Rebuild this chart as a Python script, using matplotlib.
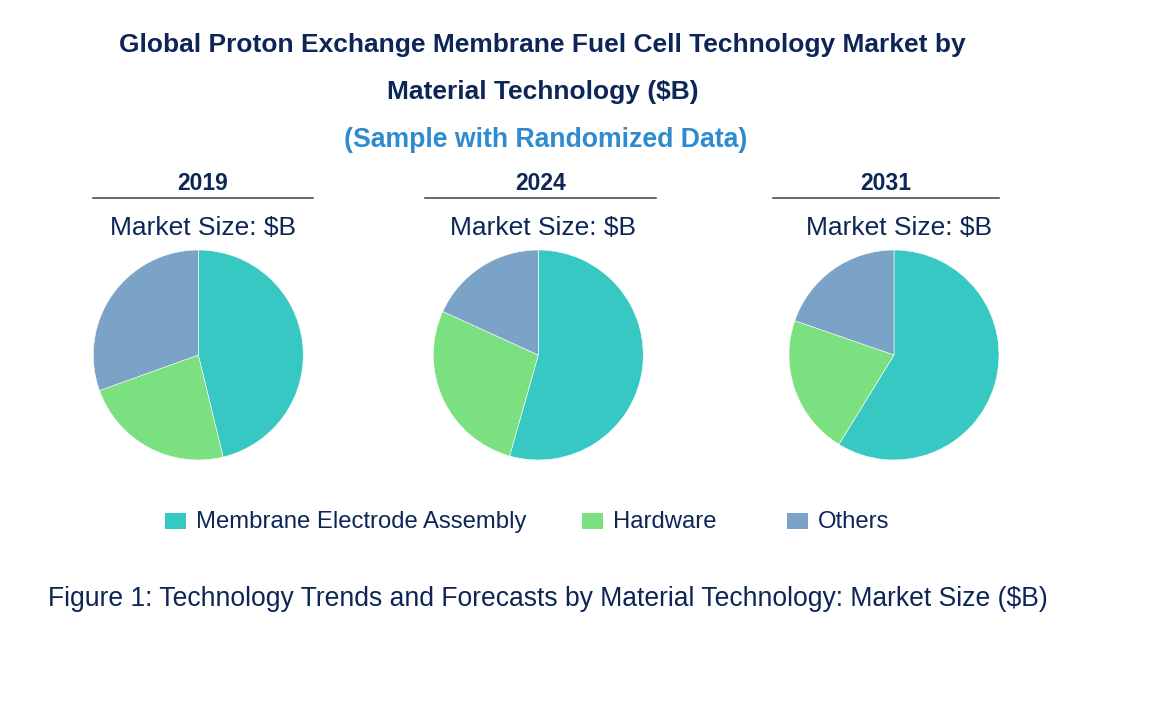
import matplotlib
matplotlib.use("Agg")
import matplotlib.pyplot as plt
from matplotlib.lines import Line2D
from matplotlib.patches import Rectangle

plt.rcParams['font.family'] = ['Liberation Sans', 'DejaVu Sans']

years = ["2019", "2024", "2031"]
categories = ["Membrane Electrode Assembly", "Hardware", "Others"]
mea_share = [46.2, 54.4, 58.8]
hardware_share = [23.3, 27.4, 21.5]
others_share = [30.5, 18.2, 19.7]
colors = ["#38C8C4", "#7BE07F", "#7BA3C7"]

W, H = 1170, 711
fig = plt.figure(figsize=(W / 100, H / 100), dpi=100)
fig.patch.set_facecolor("white")

navy = "#0D2657"
blue = "#2E8BD0"


def fx(x):
    return x / W


def fy(y):
    return 1 - y / H


fig.text(fx(542), fy(45), "Global Proton Exchange Membrane Fuel Cell Technology Market by",
         ha="center", va="center", fontsize=19, fontweight="bold", color=navy)
fig.text(fx(543), fy(92), "Material Technology ($B)",
         ha="center", va="center", fontsize=19, fontweight="bold", color=navy)
fig.text(fx(546), fy(140), "(Sample with Randomized Data)",
         ha="center", va="center", fontsize=19.2, fontweight="bold", color=blue)

centers_x = [198.3, 538.3, 894]
center_y = 355
radius = 105
line_spans = [(93, 313), (425, 656), (773, 999)]

for i, yr in enumerate(years):
    cx = centers_x[i]
    ax = fig.add_axes([fx(cx - radius), fy(center_y + radius), 2 * radius / W, 2 * radius / H])
    vals = [mea_share[i], hardware_share[i], others_share[i]]
    ax.pie(vals, colors=colors, startangle=90, counterclock=False, radius=1,
           wedgeprops=dict(edgecolor="white", linewidth=0.4))
    ax.set_xlim(-1, 1)
    ax.set_ylim(-1, 1)
    ax.set_aspect("equal")
    ax.axis("off")
    x0, x1 = line_spans[i]
    fig.text(fx((x0 + x1) / 2), fy(183), yr, ha="center", va="center",
             fontsize=16.5, fontweight="bold", color=navy)
    fig.add_artist(Line2D([fx(x0), fx(x1)], [fy(198), fy(198)], color="#404040", linewidth=1.1))
    fig.text(fx(cx + 5), fy(228), "Market Size: $B", ha="center", va="center",
             fontsize=19, color=navy)

leg_sq_x = [165, 582, 787]
leg_y = 521
for i, cat in enumerate(categories):
    fig.add_artist(Rectangle((fx(leg_sq_x[i]), fy(leg_y + 8)), 21 / W, 16 / H,
                             facecolor=colors[i], edgecolor="none", transform=fig.transFigure))
    fig.text(fx(leg_sq_x[i] + 31), fy(leg_y + 1), cat, ha="left", va="center",
             fontsize=17.2, color=navy)

fig.text(fx(48), fy(599), "Figure 1: Technology Trends and Forecasts by Material Technology: Market Size ($B)",
         ha="left", va="center", fontsize=19.1, color=navy)

fig.savefig("out.png", dpi=100, facecolor="white")
